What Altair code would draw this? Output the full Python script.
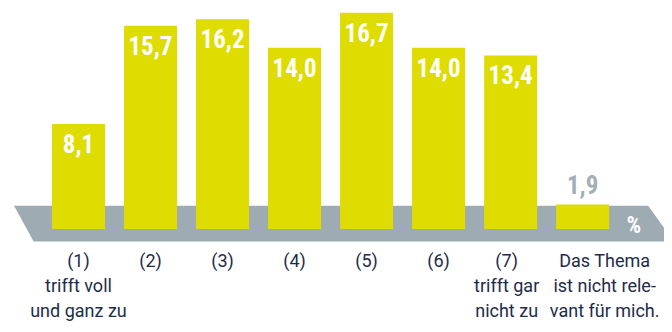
import altair as alt
import pandas as pd

# ---- data ----
slots = [1, 2, 3, 4, 5, 6, 7, 8]
values = [8.1, 15.7, 16.2, 14.0, 16.7, 14.0, 13.4, 1.9]
value_labels = ["8,1", "15,7", "16,2", "14,0", "16,7", "14,0", "13,4", "1,9"]
cat_labels = [
    ["(1)", "trifft voll", "und ganz zu"],
    ["(2)"], ["(3)"], ["(4)"], ["(5)"], ["(6)"],
    ["(7)", "trifft gar", "nicht zu"],
    ["Das Thema", "ist nicht rele-", "vant für mich."],
]
# base band (trapezoid) in data units
band_y = [1.8, -0.97]
band_left = [0.105, 0.378]
band_right = [8.91, 9.265]
unit_label = "%"
unit_pos = (8.711, 0.27)

YELLOW = "#dedc00"
GRAY = "#9eabb2"
NAVY = "#1d2c49"
FONT_B = "Roboto Condensed, Liberation Sans Narrow, DejaVu Sans Condensed, sans-serif"
FONT = "Roboto, Liberation Sans, sans-serif"

df = pd.DataFrame({"slot": slots, "value": values, "vlabel": value_labels,
                   "clabel": cat_labels, "zero": [0] * len(slots)})
df["kind"] = ["main"] * 7 + ["other"]
band = pd.DataFrame({"y": band_y, "x": band_left, "x2": band_right})

xs = alt.Scale(domain=[0.091, 9.06], nice=False, zero=False)
ys = alt.Scale(domain=[-7.335, 17.066], nice=False, zero=False)

band_layer = alt.Chart(band).mark_area(orient="horizontal", color=GRAY, clip=True).encode(
    y=alt.Y("y:Q", scale=ys, axis=None),
    x=alt.X("x:Q", scale=xs, axis=None),
    x2="x2:Q",
)
band_edge = alt.Chart(band.iloc[[1]]).mark_rule(color="#cdd4d8", strokeWidth=1, clip=True).encode(
    y=alt.Y("y:Q", scale=ys, axis=None),
    x=alt.X("x:Q", scale=xs, axis=None),
    x2="x2:Q",
)

bars = alt.Chart(df).mark_bar(color=YELLOW, size=53).encode(
    x=alt.X("slot:Q", scale=xs, axis=None),
    y=alt.Y("value:Q", scale=ys, axis=None),
    y2="zero:Q",
)

vlab_main = alt.Chart(df[df.kind == "main"]).mark_text(
    color="white", font=FONT_B, fontWeight="bold", fontSize=25, baseline="middle", dy=21
).encode(x=alt.X("slot:Q", scale=xs), y=alt.Y("value:Q", scale=ys), text="vlabel:N")

vlab_other = alt.Chart(df[df.kind == "other"]).mark_text(
    color="#a3afb5", font=FONT_B, fontWeight="bold", fontSize=25, baseline="middle", dy=-18
).encode(x=alt.X("slot:Q", scale=xs), y=alt.Y("value:Q", scale=ys), text="vlabel:N")


def cat_layer(sub, dx):
    return alt.Chart(sub).mark_text(
        color=NAVY, font=FONT, fontSize=18, baseline="top", dy=24, dx=dx, lineHeight=25
    ).encode(x=alt.X("slot:Q", scale=xs), y=alt.Y("zero:Q", scale=ys), text="clabel")


clab_a = cat_layer(df[df.slot <= 6], 0)
clab_b = cat_layer(df[df.slot == 7], -4)
clab_c = cat_layer(df[df.slot == 8], 22)

unit = alt.Chart(pd.DataFrame({"x": [unit_pos[0]], "y": [unit_pos[1]], "t": [unit_label]})).mark_text(
    color="white", font=FONT_B, fontWeight="bold", fontSize=23, baseline="middle"
).encode(x=alt.X("x:Q", scale=xs), y=alt.Y("y:Q", scale=ys), text="t:N")

chart = alt.layer(band_layer, band_edge, bars, vlab_main, vlab_other, clab_a, clab_b, clab_c, unit).properties(
    width=656, height=316, padding=0, autosize=alt.AutoSizeParams(type="none")
).configure_view(stroke=None)

chart.save("out.html", embed_options={"renderer": "svg", "actions": False})
